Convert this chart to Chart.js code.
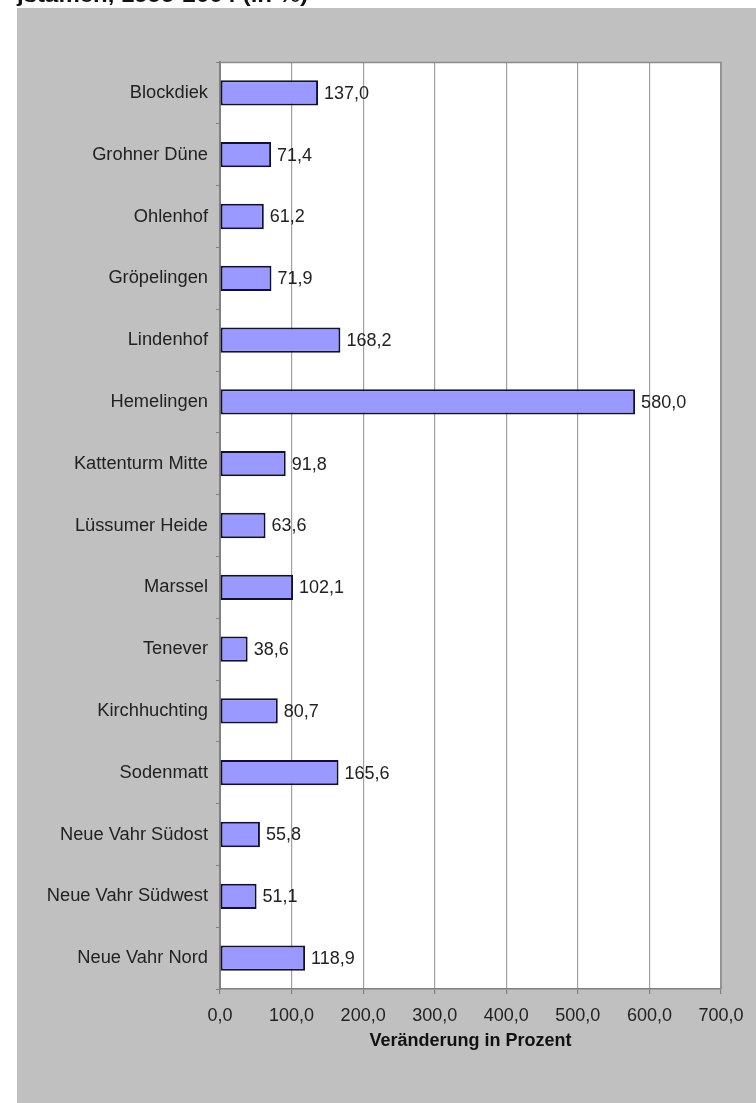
<!DOCTYPE html>
<html>
<head>
<meta charset="utf-8">
<script src="https://cdn.jsdelivr.net/npm/chart.js@4/dist/chart.umd.min.js"></script>
<style>
html,body{margin:0;padding:0;background:#fff;}
#wrap{position:absolute;left:0;top:0;width:756px;height:1103px;}
</style>
</head>
<body>
<div id="wrap"><canvas id="c" width="756" height="1103"></canvas></div>
<script>
const titleText = "jstämen, 1999-2004 (in %)";
const categories = ["Blockdiek","Grohner Düne","Ohlenhof","Gröpelingen","Lindenhof","Hemelingen","Kattenturm Mitte","Lüssumer Heide","Marssel","Tenever","Kirchhuchting","Sodenmatt","Neue Vahr Südost","Neue Vahr Südwest","Neue Vahr Nord"];
const values = [137.0,71.4,61.2,71.9,168.2,580.0,91.8,63.6,102.1,38.6,80.7,165.6,55.8,51.1,118.9];
const xTicks = [0,100,200,300,400,500,600,700];
const axisTitle = "Veränderung in Prozent";

const FONT = "'Liberation Sans', Arial, sans-serif";
const fmt = v => v.toFixed(1).replace('.', ',');

const bgPlugin = {
  id: 'bg',
  beforeDraw(chart) {
    const {ctx, chartArea: a} = chart;
    ctx.save();
    ctx.fillStyle = '#ffffff';
    ctx.fillRect(0, 0, 756, 1103);
    ctx.fillStyle = '#111';
    ctx.font = "bold 20px " + FONT;
    ctx.textBaseline = 'alphabetic';
    const w = ctx.measureText(titleText).width;
    ctx.save();
    ctx.translate(17, 2);
    ctx.scale(291 / w, 1);
    ctx.fillText(titleText, 0, 0);
    ctx.restore();
    ctx.fillStyle = '#c0c0c0';
    ctx.fillRect(17, 8, 756 - 17, 1103 - 8);
    ctx.fillStyle = '#ffffff';
    ctx.fillRect(a.left, a.top, a.right - a.left, a.bottom - a.top);
    ctx.restore();
  },
  afterDraw(chart) {
    const {ctx, chartArea: a} = chart;
    ctx.save();
    ctx.strokeStyle = '#8c8c8c';
    ctx.lineWidth = 1.5;
    ctx.beginPath();
    ctx.moveTo(a.left, a.top + 0.5);
    ctx.lineTo(a.right, a.top + 0.5);
    ctx.lineTo(a.right, a.bottom);
    ctx.stroke();
    ctx.fillStyle = '#111';
    ctx.font = "bold 18px " + FONT;
    ctx.textAlign = 'center';
    ctx.textBaseline = 'middle';
    ctx.fillText(axisTitle, (a.left + a.right) / 2, a.bottom + 52);
    ctx.restore();
  }
};

const labelPlugin = {
  id: 'vals',
  afterDatasetsDraw(chart) {
    const {ctx} = chart;
    const meta = chart.getDatasetMeta(0);
    ctx.save();
    ctx.fillStyle = '#222';
    ctx.font = "18px " + FONT;
    ctx.textAlign = 'left';
    ctx.textBaseline = 'middle';
    meta.data.forEach((el, i) => {
      ctx.fillText(fmt(values[i]), el.x + 6, el.y + 1);
    });
    ctx.restore();
  }
};

new Chart(document.getElementById('c'), {
  type: 'bar',
  data: {
    labels: categories,
    datasets: [{
      data: values,
      backgroundColor: '#9999ff',
      borderColor: '#101030',
      borderWidth: 2,
      borderSkipped: false,
      barPercentage: 0.41,
      categoryPercentage: 1.0
    }]
  },
  options: {
    indexAxis: 'y',
    responsive: false,
    animation: false,
    events: [],
    layout: { padding: { left: 0, top: 62, right: 35, bottom: 0 } },
    plugins: { legend: { display: false }, tooltip: { enabled: false } },
    scales: {
      x: {
        min: 0, max: 700,
        afterBuildTicks(scale) { scale.ticks = xTicks.map(v => ({value: v})); },
        afterFit(scale) { scale.height = 114; },
        ticks: {
          callback: v => fmt(v),
          color: '#222',
          font: { family: FONT, size: 18 },
          padding: 11,
          maxRotation: 0
        },
        grid: { color: '#a0a0a0', lineWidth: 1.2, tickColor: '#808080', tickLength: 5 },
        border: { color: '#808080', width: 1.5 },
        title: { display: false }
      },
      y: {
        afterFit(scale) { scale.width = 220; },
        ticks: {
          color: '#222',
          font: { family: FONT, size: 18.3 },
          padding: 8
        },
        grid: { drawOnChartArea: false, color: '#808080', tickLength: 4, offset: true },
        border: { color: '#808080', width: 2 }
      }
    }
  },
  plugins: [bgPlugin, labelPlugin]
});
</script>
</body>
</html>
